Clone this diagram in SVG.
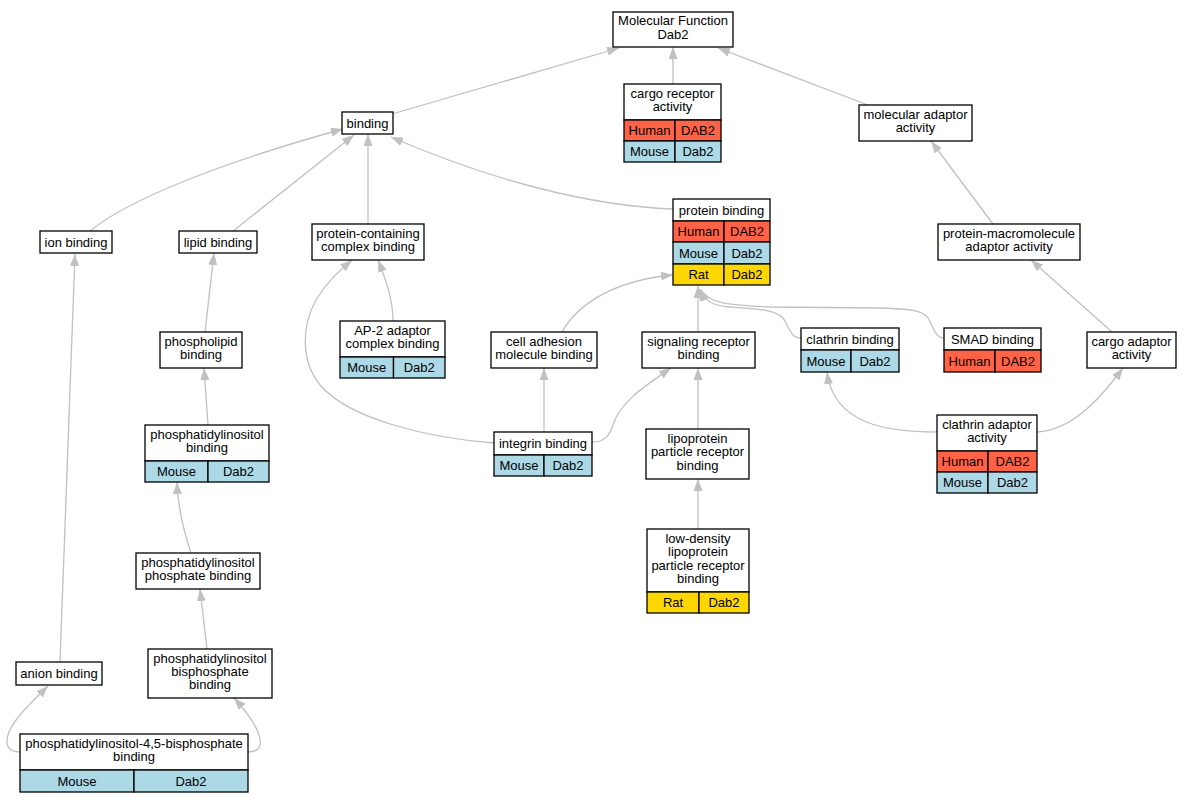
<svg xmlns="http://www.w3.org/2000/svg" width="1191" height="803" viewBox="0 0 1191 803">
<style>
text{font-family:"Liberation Sans",Arial,sans-serif;font-size:13px;fill:#000;text-anchor:middle}
.n rect{stroke:#000;stroke-width:1.3}
.w{fill:#fff}
.hu{fill:#ff6347}
.mo{fill:#add8e6}
.ra{fill:#ffd700}
#edges path{fill:none;stroke:#c0c0c0;stroke-width:1.3}
</style>
<defs>
<marker id="ah" viewBox="0 0 12 9" refX="12" refY="4.5" markerWidth="12" markerHeight="9" markerUnits="userSpaceOnUse" orient="auto">
<polygon points="0,0 12,4.5 0,9" fill="#c0c0c0"/>
</marker>
</defs>
<rect width="1191" height="803" fill="#fff"/>
<g id="edges">
<path marker-end="url(#ah)" d="M392,114 L619,48"/>
<path marker-end="url(#ah)" d="M673,84 L673,47"/>
<path marker-end="url(#ah)" d="M868,105 L718,48"/>
<path marker-end="url(#ah)" d="M90,231 C130,198 230,160 343,129"/>
<path marker-end="url(#ah)" d="M233,231 L354,135"/>
<path marker-end="url(#ah)" d="M368,224 L368,134"/>
<path marker-end="url(#ah)" d="M673,209 C590,206 490,180 391,137"/>
<path marker-end="url(#ah)" d="M993,224 L931,141"/>
<path marker-end="url(#ah)" d="M205,332 L214,253"/>
<path marker-end="url(#ah)" d="M393,321 C393,300 386,280 378,260"/>
<path marker-end="url(#ah)" d="M494,443 C430,438 350,420 320,385 C300,360 302,325 316,300 C326,283 338,272 352,260"/>
<path marker-end="url(#ah)" d="M562,332 C580,300 620,280 673,275"/>
<path marker-end="url(#ah)" d="M698,332 L698,286"/>
<path marker-end="url(#ah)" d="M801,338 C790,338 789,326 783,318 C776,310 760,309 730,307 C715,306 705,302 699,289"/>
<path marker-end="url(#ah)" d="M944,338 C935,338 933,326 928,318 C922,310 910,309 880,308 L770,307 C730,305 708,304 700,289"/>
<path marker-end="url(#ah)" d="M544,432 L544,368"/>
<path marker-end="url(#ah)" d="M592,442 C605,442 609,436 613,425 C620,402 645,386 671,368"/>
<path marker-end="url(#ah)" d="M698,429 L698,368"/>
<path marker-end="url(#ah)" d="M698,529 L698,479"/>
<path marker-end="url(#ah)" d="M937,432 C890,432 834,426 827,372"/>
<path marker-end="url(#ah)" d="M1037,432 C1070,430 1096,404 1123,368"/>
<path marker-end="url(#ah)" d="M1112,332 L1031,260"/>
<path marker-end="url(#ah)" d="M60,662 L75,254"/>
<path marker-end="url(#ah)" d="M208,425 L204,368"/>
<path marker-end="url(#ah)" d="M191,553 C185,535 178,512 177,482"/>
<path marker-end="url(#ah)" d="M207,649 L200,589"/>
<path marker-end="url(#ah)" d="M20,752 C6,752 5,742 9,732 C16,716 34,700 48,686"/>
<path marker-end="url(#ah)" d="M248,752 C262,752 262,742 258,732 C253,720 245,710 234,698"/>
</g>
<g id="n_mf" class="n"><rect class="w" x="613" y="12" width="120" height="35"/><text x="673" y="25.4">Molecular Function</text><text x="673" y="38.6">Dab2</text></g>
<g id="n_cargo_receptor" class="n"><rect class="w" x="624" y="84" width="97" height="36"/><text x="672.5" y="97.8">cargo receptor</text><text x="672.5" y="111.1">activity</text>
<rect class="hu" x="624" y="120" width="51" height="21"/><rect class="hu" x="675" y="120" width="46" height="21"/><text x="649.5" y="135">Human</text><text x="698" y="135">DAB2</text>
<rect class="mo" x="624" y="141" width="51" height="21"/><rect class="mo" x="675" y="141" width="46" height="21"/><text x="649.5" y="156">Mouse</text><text x="698" y="156">Dab2</text></g>
<g id="n_mol_adaptor" class="n"><rect class="w" x="859" y="105" width="113" height="36"/><text x="915.5" y="118.8">molecular adaptor</text><text x="915.5" y="132.1">activity</text></g>
<g id="n_binding" class="n"><rect class="w" x="342" y="112" width="51" height="22"/><text x="367.5" y="127.5">binding</text></g>
<g id="n_ion" class="n"><rect class="w" x="40" y="231" width="72" height="22"/><text x="76" y="246.5">ion binding</text></g>
<g id="n_lipid" class="n"><rect class="w" x="179" y="231" width="78" height="22"/><text x="218" y="246.5">lipid binding</text></g>
<g id="n_pcc" class="n"><rect class="w" x="312" y="224" width="112" height="36"/><text x="368" y="237.8">protein-containing</text><text x="368" y="251.1">complex binding</text></g>
<g id="n_ap2" class="n"><rect class="w" x="340" y="321" width="105" height="36"/><text x="392.5" y="334.8">AP-2 adaptor</text><text x="392.5" y="348.1">complex binding</text>
<rect class="mo" x="340" y="357" width="53.5" height="21"/><rect class="mo" x="393.5" y="357" width="51.5" height="21"/><text x="366.75" y="372">Mouse</text><text x="419.25" y="372">Dab2</text></g>
<g id="n_phospholipid" class="n"><rect class="w" x="160" y="332" width="82" height="36"/><text x="201" y="345.8">phospholipid</text><text x="201" y="359.1">binding</text></g>
<g id="n_protein_binding" class="n"><rect class="w" x="673" y="199" width="97" height="22"/><text x="721.5" y="214.5">protein binding</text>
<rect class="hu" x="673" y="221" width="51" height="21"/><rect class="hu" x="724" y="221" width="46" height="21"/><text x="698.5" y="236">Human</text><text x="747" y="236">DAB2</text>
<rect class="mo" x="673" y="242" width="51" height="22"/><rect class="mo" x="724" y="242" width="46" height="22"/><text x="698.5" y="257.5">Mouse</text><text x="747" y="257.5">Dab2</text>
<rect class="ra" x="673" y="264" width="51" height="21"/><rect class="ra" x="724" y="264" width="46" height="21"/><text x="698.5" y="279">Rat</text><text x="747" y="279">Dab2</text></g>
<g id="n_cell_adhesion" class="n"><rect class="w" x="491" y="332" width="106" height="36"/><text x="544" y="345.8">cell adhesion</text><text x="544" y="359.1">molecule binding</text></g>
<g id="n_signaling" class="n"><rect class="w" x="642" y="332" width="113" height="36"/><text x="698.5" y="345.8">signaling receptor</text><text x="698.5" y="359.1">binding</text></g>
<g id="n_clathrin_binding" class="n"><rect class="w" x="801" y="328" width="98" height="22"/><text x="850" y="343.5">clathrin binding</text>
<rect class="mo" x="801" y="350" width="50" height="22"/><rect class="mo" x="851" y="350" width="48" height="22"/><text x="826" y="365.5">Mouse</text><text x="875" y="365.5">Dab2</text></g>
<g id="n_smad" class="n"><rect class="w" x="944" y="328" width="97" height="22"/><text x="992.5" y="343.5">SMAD binding</text>
<rect class="hu" x="944" y="350" width="51" height="22"/><rect class="hu" x="995" y="350" width="46" height="22"/><text x="969.5" y="365.5">Human</text><text x="1018" y="365.5">DAB2</text></g>
<g id="n_cargo_adaptor" class="n"><rect class="w" x="1087" y="332" width="89" height="36"/><text x="1131.5" y="345.8">cargo adaptor</text><text x="1131.5" y="359.1">activity</text></g>
<g id="n_pma" class="n"><rect class="w" x="938" y="224" width="142" height="36"/><text x="1009" y="237.8">protein-macromolecule</text><text x="1009" y="251.1">adaptor activity</text></g>
<g id="n_clathrin_adaptor" class="n"><rect class="w" x="937" y="415" width="100" height="36"/><text x="987" y="428.8">clathrin adaptor</text><text x="987" y="442.1">activity</text>
<rect class="hu" x="937" y="451" width="51" height="21"/><rect class="hu" x="988" y="451" width="49" height="21"/><text x="962.5" y="466">Human</text><text x="1012.5" y="466">DAB2</text>
<rect class="mo" x="937" y="472" width="51" height="21"/><rect class="mo" x="988" y="472" width="49" height="21"/><text x="962.5" y="487">Mouse</text><text x="1012.5" y="487">Dab2</text></g>
<g id="n_integrin" class="n"><rect class="w" x="494" y="432" width="98" height="23"/><text x="543" y="448">integrin binding</text>
<rect class="mo" x="494" y="455" width="50" height="21"/><rect class="mo" x="544" y="455" width="48" height="21"/><text x="519" y="470">Mouse</text><text x="568" y="470">Dab2</text></g>
<g id="n_lipoprotein" class="n"><rect class="w" x="646" y="429" width="103" height="50"/><text x="697.5" y="443.1">lipoprotein</text><text x="697.5" y="456.4">particle receptor</text><text x="697.5" y="469.7">binding</text></g>
<g id="n_ldl" class="n"><rect class="w" x="647" y="529" width="102" height="63"/><text x="698" y="543">low-density</text><text x="698" y="556.2">lipoprotein</text><text x="698" y="569.5">particle receptor</text><text x="698" y="582.8">binding</text>
<rect class="ra" x="647" y="592" width="52" height="21"/><rect class="ra" x="699" y="592" width="50" height="21"/><text x="673" y="607">Rat</text><text x="724" y="607">Dab2</text></g>
<g id="n_pi" class="n"><rect class="w" x="145" y="425" width="124" height="36"/><text x="207" y="438.8">phosphatidylinositol</text><text x="207" y="452.1">binding</text>
<rect class="mo" x="145" y="461" width="63" height="21"/><rect class="mo" x="208" y="461" width="61" height="21"/><text x="176.5" y="476">Mouse</text><text x="238.5" y="476">Dab2</text></g>
<g id="n_pip" class="n"><rect class="w" x="136" y="553" width="124" height="36"/><text x="198" y="566.8">phosphatidylinositol</text><text x="198" y="580.1">phosphate binding</text></g>
<g id="n_anion" class="n"><rect class="w" x="16" y="662" width="86" height="23"/><text x="59" y="678">anion binding</text></g>
<g id="n_pibp" class="n"><rect class="w" x="148" y="649" width="124" height="49"/><text x="210" y="662.6">phosphatidylinositol</text><text x="210" y="675.9">bisphosphate</text><text x="210" y="689.2">binding</text></g>
<g id="n_pi45p2" class="n"><rect class="w" x="20" y="734" width="228" height="36"/><text x="134" y="747.8">phosphatidylinositol-4,5-bisphosphate</text><text x="134" y="761.1">binding</text>
<rect class="mo" x="20" y="770" width="114" height="22"/><rect class="mo" x="134" y="770" width="114" height="22"/><text x="77" y="785.5">Mouse</text><text x="191" y="785.5">Dab2</text></g>
</svg>
